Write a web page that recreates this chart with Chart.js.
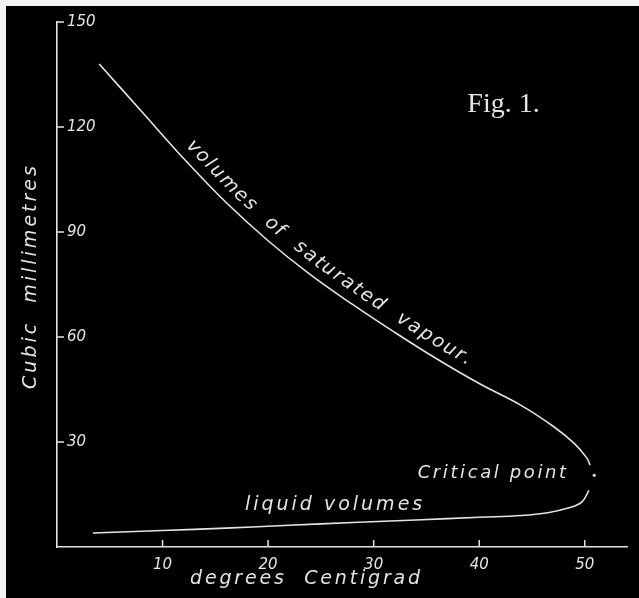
<!DOCTYPE html>
<html>
<head>
<meta charset="utf-8">
<title>Fig. 1</title>
<script src="https://cdn.jsdelivr.net/npm/chart.js@4.4.0/dist/chart.umd.min.js"></script>
<style>
    html, body { margin: 0; padding: 0; background: #000; }
    #wrap { width: 639px; height: 598px; }
</style>
</head>
<body>
<div id="wrap"><canvas id="figChart" width="639" height="598"></canvas></div>
<script>
// Saturated vapour branch (degrees C -> cubic millimetres)
const vapourTemps   = [4, 8, 12, 16, 20, 24, 28, 32, 36, 40, 44, 47, 49, 50.2, 50.5];
const vapourVolumes = [138, 124.5, 111, 98.5, 87.5, 77.8, 69.3, 61.3, 53.7, 46.7, 40.4, 34.5, 29.6, 25.4, 23.4];

// Liquid branch
const liquidTemps   = [3.4, 10, 16, 22, 28, 34, 40, 44, 46.5, 48.5, 49.7, 50.4];
const liquidVolumes = [4, 4.7, 5.4, 6.2, 7, 7.7, 8.5, 9.0, 9.8, 11.2, 12.8, 16.2];

// Critical point
const criticalTemp = [50.9];
const criticalVolume = [20.5];

// Axis ticks
const xTickValues = [10, 20, 30, 40, 50];
const yTickValues = [30, 60, 90, 120, 150];

const INK = '#e4e4e4';
const HAND = '"DejaVu Sans", sans-serif';

const toPoints = (xs, ys) => xs.map((x, i) => ({ x: x, y: ys[i] }));

// Draw text with letter spacing, centred on (x, y)
function spacedText(ctx, text, x, y, font, spacing, angle) {
    ctx.save();
    ctx.font = font;
    ctx.fillStyle = INK;
    ctx.letterSpacing = spacing + 'px';
    ctx.textAlign = 'center';
    ctx.textBaseline = 'middle';
    ctx.translate(x, y);
    if (angle) ctx.rotate(angle);
    ctx.fillText(text, spacing / 2, 0);
    ctx.restore();
}

// Lay text out character by character along a polyline, offset to its upper side
function textAlongCurve(ctx, pts, text, startX, offset, font, spacing) {
    const cum = [0];
    for (let i = 1; i < pts.length; i++) {
        cum.push(cum[i - 1] + Math.hypot(pts[i].x - pts[i - 1].x, pts[i].y - pts[i - 1].y));
    }
    const at = d => {
        let i = 1;
        while (i < pts.length - 1 && cum[i] < d) i++;
        const a = pts[i - 1], b = pts[i];
        const seg = cum[i] - cum[i - 1];
        const t = (d - cum[i - 1]) / seg;
        return { x: a.x + (b.x - a.x) * t, y: a.y + (b.y - a.y) * t, dx: (b.x - a.x) / seg, dy: (b.y - a.y) / seg };
    };
    // distance along curve where x reaches startX
    let d = 0;
    for (let i = 1; i < pts.length; i++) {
        if (pts[i].x >= startX) {
            const t = (startX - pts[i - 1].x) / (pts[i].x - pts[i - 1].x);
            d = cum[i - 1] + t * (cum[i] - cum[i - 1]);
            break;
        }
    }
    ctx.save();
    ctx.font = font;
    ctx.fillStyle = INK;
    ctx.textAlign = 'center';
    ctx.textBaseline = 'alphabetic';
    for (const ch of text) {
        const w = ctx.measureText(ch).width;
        const p = at(d + w / 2);
        ctx.save();
        ctx.translate(p.x + p.dy * offset, p.y - p.dx * offset);
        ctx.rotate(Math.atan2(p.dy, p.dx));
        ctx.fillText(ch, 0, 0);
        ctx.restore();
        d += w + spacing;
    }
    ctx.restore();
}

const blackboard = {
    id: 'blackboard',
    beforeDraw(chart) {
        const ctx = chart.ctx;
        ctx.save();
        ctx.fillStyle = '#000';
        ctx.fillRect(0, 0, chart.width, chart.height);
        // pale scan edges
        ctx.fillStyle = '#f4f4f4';
        ctx.fillRect(0, 0, chart.width, 6);
        ctx.fillRect(0, 0, 6, chart.height);
        ctx.restore();
    }
};

const figureText = {
    id: 'figureText',
    afterDraw(chart) {
        const ctx = chart.ctx;
        const xs = chart.scales.x, ys = chart.scales.y;
        const area = chart.chartArea;

        // inward tick marks
        ctx.save();
        ctx.strokeStyle = INK;
        ctx.lineWidth = 1.5;
        ctx.beginPath();
        xTickValues.forEach(v => {
            const px = xs.getPixelForValue(v);
            ctx.moveTo(px, area.bottom);
            ctx.lineTo(px, area.bottom - 7);
        });
        yTickValues.forEach(v => {
            const py = ys.getPixelForValue(v);
            ctx.moveTo(area.left, py);
            ctx.lineTo(area.left + 7, py);
        });
        ctx.stroke();
        ctx.restore();

        // axis titles
        spacedText(ctx, 'Cubic  millimetres', 31, (area.top + area.bottom) / 2 - 7,
            'italic 200 19px ' + HAND, 3, -Math.PI / 2);
        spacedText(ctx, 'degrees  Centigrad', xs.getPixelForValue(23.5), 579,
            'italic 200 19px ' + HAND, 2.8, 0);

        // labels
        spacedText(ctx, 'Fig. 1.', xs.getPixelForValue(42.3), ys.getPixelForValue(126.5),
            '28px "Liberation Serif", serif', 0, 0);
        spacedText(ctx, 'Critical point', xs.getPixelForValue(41.2), ys.getPixelForValue(21.1),
            'italic 200 18px ' + HAND, 2.6, 0);
        spacedText(ctx, 'liquid volumes', xs.getPixelForValue(26.2), ys.getPixelForValue(12.0),
            'italic 200 19px ' + HAND, 3, 0);

        const pts = chart.getDatasetMeta(0).data.map(p => ({ x: p.x, y: p.y }));
        textAlongCurve(ctx, pts, 'volumes  of  saturated  vapour.', xs.getPixelForValue(11.5), 10,
            'italic 200 19px ' + HAND, 2.1);
    }
};

new Chart(document.getElementById('figChart'), {
    type: 'scatter',
    data: {
        datasets: [
            {
                label: 'volumes of saturated vapour',
                data: toPoints(vapourTemps, vapourVolumes),
                showLine: true,
                borderColor: INK,
                borderWidth: 1.6,
                tension: 0.4,
                pointRadius: 0
            },
            {
                label: 'liquid volumes',
                data: toPoints(liquidTemps, liquidVolumes),
                showLine: true,
                borderColor: INK,
                borderWidth: 1.6,
                tension: 0.4,
                pointRadius: 0
            },
            {
                label: 'Critical point',
                data: toPoints(criticalTemp, criticalVolume),
                pointRadius: 1.6,
                pointBackgroundColor: INK,
                pointBorderWidth: 0
            }
        ]
    },
    options: {
        responsive: false,
        animation: false,
        layout: { padding: { top: 22, right: 12, left: 0, bottom: 0 } },
        plugins: {
            legend: { display: false },
            tooltip: { enabled: false }
        },
        scales: {
            x: {
                type: 'linear',
                min: 0,
                max: 54,
                afterBuildTicks: s => { s.ticks = xTickValues.map(v => ({ value: v })); },
                afterFit: s => { s.height = 51; },
                grid: { drawOnChartArea: false, drawTicks: false },
                border: { color: INK, width: 1.6 },
                ticks: {
                    color: INK,
                    padding: 9,
                    maxRotation: 0,
                    font: { family: HAND, size: 15, style: 'italic', weight: 200 }
                }
            },
            y: {
                type: 'linear',
                min: 0,
                max: 150,
                afterBuildTicks: s => { s.ticks = yTickValues.map(v => ({ value: v })); },
                afterFit: s => { s.width = 57; },
                grid: { drawOnChartArea: false, drawTicks: false },
                border: { color: INK, width: 1.6 },
                ticks: {
                    color: INK,
                    mirror: true,
                    padding: 10,
                    font: { family: HAND, size: 15, style: 'italic', weight: 200 }
                }
            }
        }
    },
    plugins: [blackboard, figureText]
});
</script>
</body>
</html>
